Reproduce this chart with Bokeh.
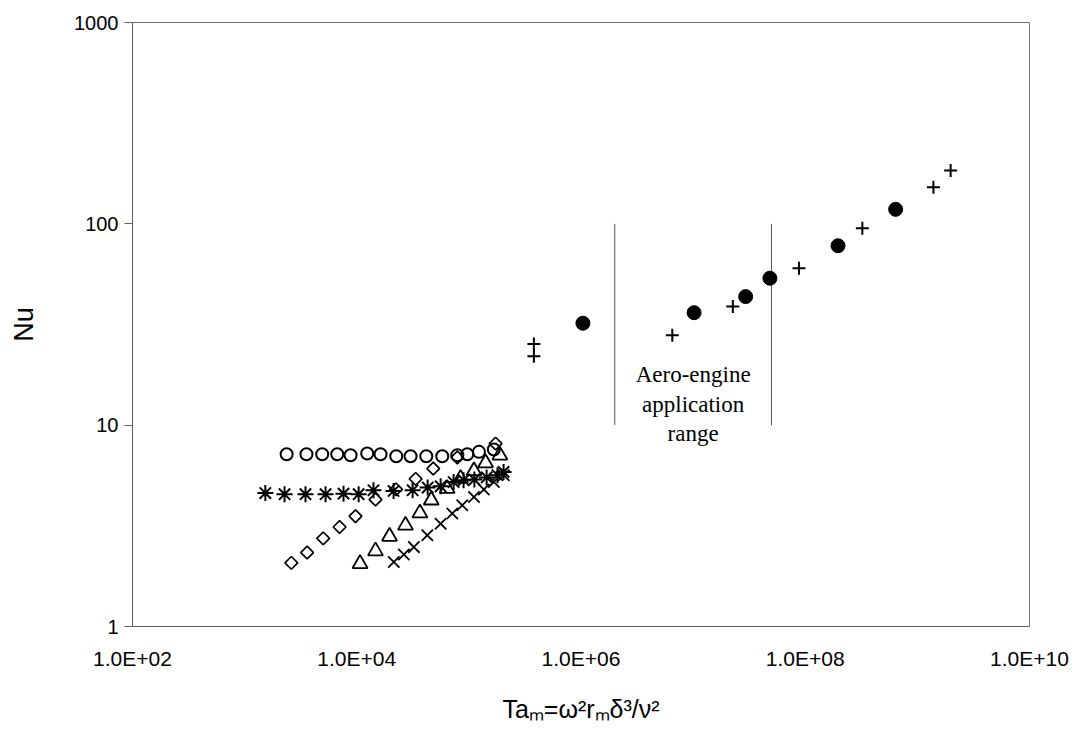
import math
from bokeh.plotting import figure
from bokeh.models import Range1d, FixedTicker, CustomJSTickFormatter, Label
from bokeh.embed import file_html
from bokeh.resources import INLINE

# ---------------- data ----------------
x_tick_values = [1e2, 1e4, 1e6, 1e8, 1e10]
x_tick_labels = ["1.0E+02", "1.0E+04", "1.0E+06", "1.0E+08", "1.0E+10"]
y_tick_values = [1, 10, 100, 1000]
y_tick_labels = ["1", "10", "100", "1000"]

open_circle_ta = [2.37e3, 3.56e3, 4.92e3, 6.70e3, 8.81e3, 1.24e4, 1.63e4, 2.25e4,
                  3.02e4, 4.17e4, 5.79e4, 7.89e4, 9.68e4, 1.23e5, 1.67e5]
open_circle_nu = [7.17, 7.17, 7.17, 7.17, 7.09, 7.23, 7.17, 7.01,
                  7.01, 7.01, 7.01, 7.09, 7.17, 7.37, 7.57]

asterisk_ta = [1.53e3, 2.27e3, 3.49e3, 5.27e3, 7.62e3, 1.04e4, 1.41e4, 2.13e4, 3.15e4,
               4.29e4, 5.60e4, 7.31e4, 8.97e4, 1.12e5, 1.44e5, 1.80e5, 2.04e5]
asterisk_nu = [4.60, 4.54, 4.54, 4.54, 4.57, 4.54, 4.75, 4.71, 4.75,
               4.90, 4.97, 5.22, 5.33, 5.37, 5.50, 5.64, 5.86]

diamond_ta = [2.61e3, 3.61e3, 5.02e3, 7.03e3, 9.75e3, 1.47e4, 2.24e4, 3.35e4, 4.81e4, 7.89e4, 1.73e5]
diamond_nu = [2.07, 2.33, 2.74, 3.12, 3.53, 4.27, 4.80, 5.41, 6.09, 6.91, 8.10]

triangle_ta = [1.07e4, 1.47e4, 1.96e4, 2.72e4, 3.66e4, 4.62e4, 6.41e4, 8.43e4, 1.11e5, 1.41e5, 1.89e5]
triangle_nu = [2.05, 2.37, 2.80, 3.18, 3.66, 4.24, 4.84, 5.43, 5.93, 6.49, 7.09]

xmark_ta = [2.14e4, 2.63e4, 3.23e4, 4.26e4, 5.60e4, 7.11e4, 8.73e4, 1.11e5, 1.36e5, 1.67e5, 2.05e5]
xmark_nu = [2.09, 2.28, 2.48, 2.84, 3.24, 3.64, 4.00, 4.40, 4.79, 5.22, 5.64]

filled_circle_ta = [1.04e6, 1.02e7, 2.94e7, 4.84e7, 1.96e8, 6.40e8]
filled_circle_nu = [32.1, 36.2, 43.5, 53.7, 77.8, 118.0]

plus_ta = [3.80e5, 3.80e5, 6.52e6, 2.26e7, 8.79e7, 3.23e8, 1.39e9, 1.98e9]
plus_nu = [25.3, 22.0, 28.0, 38.8, 60.2, 95.2, 152.0, 184.0]

range_lines_ta = [2.0e6, 5.0e7]
range_lines_nu_low = [10, 10]
range_lines_nu_high = [100, 100]

annotation_lines = ["Aero-engine", "application", "range"]
annotation_ta = 1.0e7
annotation_nu = [17.8, 12.6, 9.12]

# ---------------- figure ----------------
p = figure(width=1092, height=739,
           x_axis_type="log", y_axis_type="log",
           x_range=Range1d(1e2, 1e10), y_range=Range1d(1, 1000),
           output_backend="svg", toolbar_location=None,
           min_border_left=132, min_border_right=63,
           min_border_top=22, min_border_bottom=113)

p.background_fill_color = "white"
p.border_fill_color = "white"
p.outline_line_color = "#707070"
p.outline_line_width = 1
p.xgrid.visible = False
p.ygrid.visible = False

fmt_code = """
let best = 0; let bd = 1e99;
for (let i = 0; i < vals.length; i++) {
  const d = Math.abs(Math.log10(vals[i]) - Math.log10(tick));
  if (d < bd) { bd = d; best = i; }
}
return labs[best];
"""

p.xaxis.ticker = FixedTicker(ticks=x_tick_values, minor_ticks=[])
p.xaxis.formatter = CustomJSTickFormatter(args=dict(vals=x_tick_values, labs=x_tick_labels), code=fmt_code)
p.yaxis.ticker = FixedTicker(ticks=y_tick_values, minor_ticks=[])
p.yaxis.formatter = CustomJSTickFormatter(args=dict(vals=y_tick_values, labs=y_tick_labels), code=fmt_code)

for ax in (p.xaxis, p.yaxis):
    ax.axis_line_color = "#606060"
    ax.major_tick_line_color = "#606060"
    ax.major_tick_in = 0
    ax.minor_tick_in = 0
    ax.minor_tick_out = 0
    ax.major_label_text_font = "Liberation Sans"
    ax.major_label_text_font_size = "21px"
    ax.major_label_text_color = "black"
    ax.axis_label_text_font = "Liberation Sans"
    ax.axis_label_text_font_style = "normal"
    ax.axis_label_text_color = "black"

p.xaxis.major_tick_out = 0
p.xaxis.major_label_standoff = 20
p.yaxis.major_tick_out = 8
p.yaxis.major_label_standoff = 6
p.yaxis.major_label_text_font_size = "20px"

p.yaxis.axis_label = "Nu"
p.yaxis.axis_label_text_font_size = "27px"
p.yaxis.axis_label_standoff = 32

p.xaxis.axis_label = "Taₘ=ω²rₘδ³/ν²"
p.xaxis.axis_label_text_font_size = "25px"
p.xaxis.axis_label_standoff = 22

# range lines
p.segment(x0=range_lines_ta, y0=range_lines_nu_low, x1=range_lines_ta, y1=range_lines_nu_high,
          line_color="#555555", line_width=1)

# markers
p.scatter(open_circle_ta, open_circle_nu, marker="circle", size=12,
          fill_color=None, line_color="black", line_width=2)
p.scatter(asterisk_ta, asterisk_nu, marker="asterisk", size=16,
          line_color="black", line_width=2)
p.scatter(diamond_ta, diamond_nu, marker="square", size=9, angle=math.pi / 4,
          fill_color=None, line_color="black", line_width=1.7)
p.scatter(triangle_ta, triangle_nu, marker="triangle", size=15,
          fill_color=None, line_color="black", line_width=1.8)
p.scatter(xmark_ta, xmark_nu, marker="x", size=16,
          line_color="black", line_width=1.8)
p.scatter(filled_circle_ta, filled_circle_nu, marker="circle", size=14,
          fill_color="black", line_color="black")
p.scatter(plus_ta, plus_nu, marker="cross", size=13,
          line_color="black", line_width=2)

# annotation
for txt, yv in zip(annotation_lines, annotation_nu):
    p.add_layout(Label(x=annotation_ta, y=yv, text=txt, text_align="center",
                       text_baseline="middle", text_font="Liberation Serif",
                       text_font_size="23px", text_color="black"))

open("out.html", "w").write(file_html(p, INLINE))
